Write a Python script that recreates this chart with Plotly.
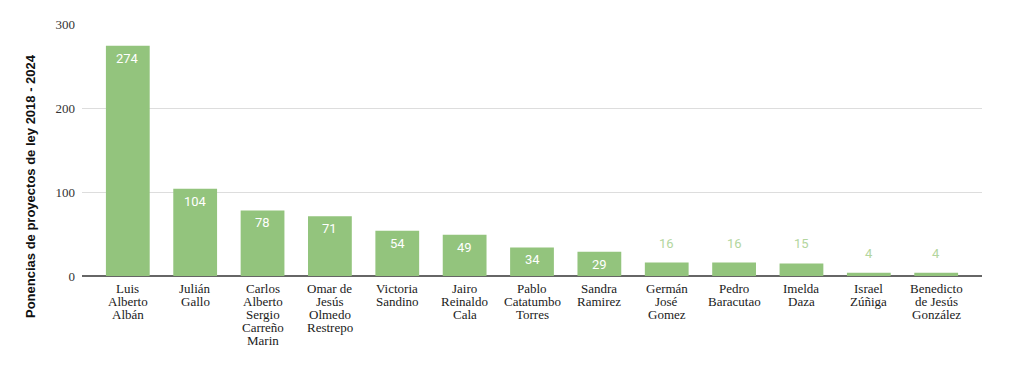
import plotly.graph_objects as go

categories = [
    "Luis<br>Alberto<br>Albán",
    "Julián<br>Gallo",
    "Carlos<br>Alberto<br>Sergio<br>Carreño<br>Marin",
    "Omar de<br>Jesús<br>Olmedo<br>Restrepo",
    "Victoria<br>Sandino",
    "Jairo<br>Reinaldo<br>Cala",
    "Pablo<br>Catatumbo<br>Torres",
    "Sandra<br>Ramirez",
    "Germán<br>José<br>Gomez",
    "Pedro<br>Baracutao",
    "Imelda<br>Daza",
    "Israel<br>Zúñiga",
    "Benedicto<br>de Jesús<br>González",
]
values = [274, 104, 78, 71, 54, 49, 34, 29, 16, 16, 15, 4, 4]
y_ticks = [0, 100, 200, 300]
y_title = "Ponencias de proyectos de ley 2018 - 2024"

BAR = "#93c47d"
OUT_TXT = "#b3d69e"
SERIF = "Liberation Serif, Times New Roman, serif"

fig = go.Figure()
fig.add_trace(go.Bar(
    x=list(range(len(values))),
    y=values,
    marker=dict(color=BAR, line=dict(width=0)),
    width=0.65,
    hoverinfo="skip",
))

annotations = []
for i, v in enumerate(values):
    inside = v >= 25
    annotations.append(dict(
        x=i, y=v, xref="x", yref="y",
        text=str(v), showarrow=False,
        yanchor="top" if inside else "bottom",
        yshift=-3 if inside else 10,
        font=dict(family="Roboto", size=13,
                  color="white" if inside else OUT_TXT),
    ))

for i, cat in enumerate(categories):
    for k, line in enumerate(cat.split("<br>")):
        annotations.append(dict(
            x=i, y=0, xref="x", yref="paper",
            text=line, showarrow=False,
            yanchor="top", yshift=-3 - 13 * k,
            font=dict(family=SERIF, size=13, color="#1a1a1a"),
        ))

annotations.append(dict(
    x=0, y=0, xref="paper", yref="paper",
    text="<b>" + y_title + "</b>", showarrow=False,
    textangle=-90, xanchor="center", yanchor="middle",
    xshift=-52, yshift=90,
    font=dict(family="Arial", size=13, color="#111111"),
))

fig.update_layout(
    width=1008, height=352,
    margin=dict(l=74, r=34, t=16, b=84, autoexpand=False),
    paper_bgcolor="white", plot_bgcolor="white",
    showlegend=False,
    annotations=annotations,
    xaxis=dict(
        tickmode="array",
        tickvals=list(range(len(values))),
        showticklabels=False,
        range=[-0.68, len(values) - 0.32],
        showgrid=False,
        showline=False,
        ticks="",
        automargin=False,
        fixedrange=True,
    ),
    yaxis=dict(
        range=[0, 300],
        tickvals=y_ticks,
        showgrid=True, gridcolor="#dddddd", gridwidth=1,
        zeroline=True, zerolinecolor="#666666", zerolinewidth=2,
        ticks="",
        ticklabelstandoff=6,
        tickfont=dict(family=SERIF, size=13, color="#333333"),
        automargin=False,
        fixedrange=True,
    ),
)

fig.write_html("out.html")
